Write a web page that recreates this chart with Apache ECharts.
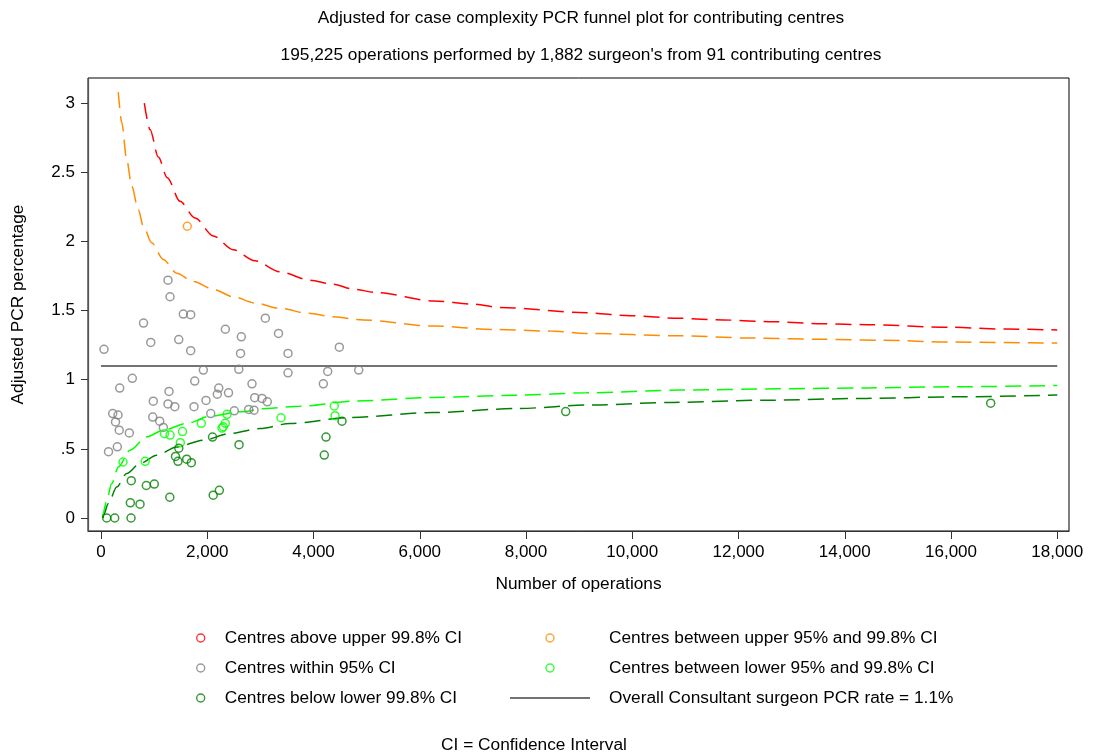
<!DOCTYPE html>
<html>
<head>
<meta charset="utf-8">
<script src="https://cdn.jsdelivr.net/npm/echarts@6/dist/echarts.min.js"></script>
<style>
html,body{margin:0;padding:0;background:#fff;}
#chart{width:1093px;height:755px;}
</style>
</head>
<body>
<div id="chart"></div>
<script>
// ---- Tick labels ----
var xTickValues = [0, 2000, 4000, 6000, 8000, 10000, 12000, 14000, 16000, 18000];
var xTickLabels = ['0', '2,000', '4,000', '6,000', '8,000', '10,000', '12,000', '14,000', '16,000', '18,000'];
var yTickValues = [0, 0.5, 1, 1.5, 2, 2.5, 3];
var yTickLabels = ['0', '.5', '1', '1.5', '2', '2.5', '3'];

// ---- Centres (number of operations, adjusted PCR %) ----
var aboveUpper998 = [];
var betweenUpper = [[1624, 2.11]];
var within95 = [
  [1261,1.72],[1299,1.60],[1549,1.475],[1688,1.47],[800,1.41],[3093,1.445],[2340,1.365],[2641,1.31],
  [3341,1.335],[936,1.27],[1463,1.29],[56,1.22],[1688,1.21],[2626,1.19],[3520,1.19],[4486,1.235],
  [1926,1.07],[2594,1.075],[3520,1.05],[4267,1.06],[4851,1.07],[4185,0.97],[589,1.01],[352,0.94],
  [1764,0.99],[1280,0.915],[2216,0.94],[2189,0.895],[2400,0.905],[2842,0.97],[984,0.845],[1261,0.825],
  [1389,0.805],[1751,0.805],[1976,0.85],[2893,0.87],[3031,0.865],[3130,0.84],[220,0.755],[320,0.745],
  [273,0.695],[973,0.73],[1105,0.70],[1173,0.655],[2065,0.755],[2509,0.775],[2780,0.785],[2880,0.78],
  [343,0.635],[533,0.615],[307,0.515],[141,0.48]
];
var betweenLower = [
  [2372,0.75],[1888,0.685],[2340,0.685],[2278,0.65],[2302,0.66],[1534,0.625],[1195,0.61],[1299,0.60],
  [1493,0.545],[3388,0.725],[4391,0.81],[4405,0.74],[414,0.405],[832,0.41]
];
var belowLower998 = [
  [2099,0.585],[2598,0.53],[1464,0.505],[1402,0.445],[1449,0.41],[1613,0.425],[1700,0.40],[570,0.27],
  [853,0.235],[1003,0.245],[552,0.11],[734,0.10],[1295,0.15],[2112,0.165],[2227,0.20],[107,0],
  [258,0],[565,0],[4235,0.585],[4203,0.455],[4536,0.70],[8747,0.77],[16747,0.83]
];

// ---- Funnel limits ----
var upper998 = [
  [815,3.0],[922,2.81],[1079,2.61],[1248,2.46],[1487,2.29],[1770,2.17],[2114,2.04],[2490,1.94],
  [2899,1.86],[3370,1.78],[3934,1.72],[4373,1.69],[4750,1.655],[5189,1.63],[6255,1.57],[7008,1.547],
  [7510,1.523],[9142,1.484],[9958,1.463],[10899,1.444],[11714,1.432],[12655,1.419],[13597,1.405],
  [14413,1.398],[15981,1.379],[17048,1.366],[18000,1.36]
];
var upper95 = [
  [325,3.08],[390,2.86],[484,2.59],[578,2.40],[702,2.23],[796,2.11],[954,1.99],[1172,1.87],[1425,1.77],
  [1737,1.71],[2114,1.654],[2490,1.60],[2900,1.555],[3370,1.516],[3900,1.48],[4373,1.455],[4938,1.432],
  [6255,1.388],[7385,1.364],[8452,1.352],[9142,1.335],[10837,1.318],[12279,1.301],[13597,1.292],
  [14726,1.285],[15981,1.272],[18000,1.265]
];
var lower95 = [
  [30,0.0],[43,0.04],[107,0.128],[201,0.249],[326,0.369],[546,0.49],[860,0.587],[1173,0.635],[1613,0.684],
  [2052,0.736],[2617,0.768],[3119,0.792],[3746,0.809],[4813,0.847],[6255,0.872],[7824,0.888],[9142,0.905],
  [10899,0.925],[12719,0.934],[14413,0.941],[15981,0.949],[18000,0.958]
];
var lower998 = [
  [40,0.0],[45,0.02],[138,0.104],[295,0.224],[484,0.322],[734,0.394],[1048,0.454],[1425,0.514],[1926,0.563],
  [2428,0.611],[2993,0.647],[3558,0.684],[4687,0.727],[6255,0.763],[7824,0.792],[9267,0.818],[10773,0.836],
  [12530,0.852],[14413,0.865],[15981,0.876],[18000,0.889]
];
var overallRate = 1.1;
var overallLine = [[0, overallRate], [18000, overallRate]];

// ---- Names & colours ----
var names = {
  above: 'Centres above upper 99.8% CI',
  upperBetween: 'Centres between upper 95% and 99.8% CI',
  within: 'Centres within 95% CI',
  lowerBetween: 'Centres between lower 95% and 99.8% CI',
  below: 'Centres below lower 99.8% CI',
  overall: 'Overall Consultant surgeon PCR rate = 1.1%'
};
var C = { red:'#ff0000', orange:'#ff8c00', gray:'#808080', lime:'#00ff00', green:'#008000', line:'#444444' };

var FONT = 'Liberation Sans, Arial, sans-serif';

function scatterSeries(name, data, color) {
  return {
    name: name, type: 'scatter', data: data, z: 5,
    symbol: 'circle', symbolSize: 8,
    itemStyle: { color: 'rgba(0,0,0,0)', borderColor: color, borderWidth: 1.5 },
    emphasis: { disabled: true }
  };
}
function limitSeries(id, data, color) {
  return {
    id: id, type: 'line', data: data, z: 2, smooth: 0.3, smoothMonotone: 'x',
    symbol: 'none', showSymbol: false, silent: true,
    lineStyle: { color: color, width: 1.5, type: [16, 8] }
  };
}
function legendCircle(name, color) {
  return { name: name, icon: 'circle',
    itemStyle: { color: 'rgba(0,0,0,0)', borderColor: color, borderWidth: 1.4 } };
}

var chart = echarts.init(document.getElementById('chart'), null, { renderer: 'canvas' });
var option = {
  backgroundColor: '#fff',
  animation: false,
  textStyle: { fontFamily: FONT },
  graphic: [
    { type: 'text', style: { text: 'Adjusted for case complexity PCR funnel plot for contributing centres',
        x: 581, y: 18, textAlign: 'center', textVerticalAlign: 'middle', font: '17.3px ' + FONT, fill: '#000' } },
    { type: 'text', style: { text: "195,225 operations performed by 1,882 surgeon's from 91 contributing centres",
        x: 581, y: 55, textAlign: 'center', textVerticalAlign: 'middle', font: '17.3px ' + FONT, fill: '#000' } },
    { type: 'text', style: { text: 'CI = Confidence Interval',
        x: 534, y: 745, textAlign: 'center', textVerticalAlign: 'middle', font: '17.3px ' + FONT, fill: '#000' } }
  ],
  grid: { left: 88, top: 78, width: 981, height: 453, show: true, borderColor: '#000', borderWidth: 1, backgroundColor: 'transparent' },
  xAxis: {
    type: 'value', min: -245, max: 18221,
    name: 'Number of operations', nameLocation: 'middle', nameGap: 45,
    nameTextStyle: { fontSize: 17.3, color: '#000', fontFamily: FONT },
    axisLine: { show: true, onZero: false, lineStyle: { color: '#333', width: 1.2 } },
    axisTick: { show: true, length: 8, customValues: xTickValues, lineStyle: { color: '#333' } },
    axisLabel: { customValues: xTickValues, margin: 13, fontSize: 17, color: '#000', fontFamily: FONT,
      formatter: function (v) { var i = xTickValues.indexOf(v); return i >= 0 ? xTickLabels[i] : ''; } },
    splitLine: { show: false }
  },
  yAxis: {
    type: 'value', min: -0.094, max: 3.182,
    name: 'Adjusted PCR percentage', nameLocation: 'middle', nameGap: 61, nameRotate: 90,
    nameTextStyle: { fontSize: 17.3, color: '#000', fontFamily: FONT },
    axisLine: { show: true, onZero: false, lineStyle: { color: '#555', width: 1.2 } },
    axisTick: { show: true, length: 7, customValues: yTickValues, lineStyle: { color: '#333' } },
    axisLabel: { customValues: yTickValues, margin: 13, fontSize: 17, color: '#000', fontFamily: FONT,
      formatter: function (v) {
        for (var i = 0; i < yTickValues.length; i++) { if (Math.abs(yTickValues[i] - v) < 1e-9) return yTickLabels[i]; }
        return '';
      } },
    splitLine: { show: false }
  },
  legend: [
    {
      orient: 'vertical', left: 191, top: 623, itemWidth: 8, itemHeight: 8, itemGap: 10,
      selectedMode: false,
      textStyle: { fontSize: 17.3, color: '#000', fontFamily: FONT, lineHeight: 20, padding: [0, 0, 0, 15] },
      data: [legendCircle(names.above, C.red), legendCircle(names.within, C.gray), legendCircle(names.below, C.green)]
    },
    {
      orient: 'vertical', left: 505, top: 623, itemWidth: 80, itemHeight: 8, itemGap: 10,
      selectedMode: false,
      textStyle: { fontSize: 17.3, color: '#000', fontFamily: FONT, lineHeight: 20, padding: [0, 0, 0, 14] },
      data: [legendCircle(names.upperBetween, C.orange), legendCircle(names.lowerBetween, C.lime),
             { name: names.overall, icon: 'path://M0,0H80V1.5H0Z', itemStyle: { color: C.line, borderWidth: 0 } }]
    }
  ],
  series: [
    limitSeries('u998', upper998, C.red),
    limitSeries('u95', upper95, C.orange),
    limitSeries('l95', lower95, C.lime),
    limitSeries('l998', lower998, C.green),
    {
      name: names.overall, type: 'line', data: overallLine, z: 3, symbol: 'none', showSymbol: false, silent: true,
      itemStyle: { color: C.line },
      lineStyle: { color: C.line, width: 1.5, type: 'solid' }
    },
    scatterSeries(names.above, aboveUpper998, C.red),
    scatterSeries(names.upperBetween, betweenUpper, C.orange),
    scatterSeries(names.within, within95, C.gray),
    scatterSeries(names.lowerBetween, betweenLower, C.lime),
    scatterSeries(names.below, belowLower998, C.green)
  ]
};
chart.setOption(option);
</script>
</body>
</html>
